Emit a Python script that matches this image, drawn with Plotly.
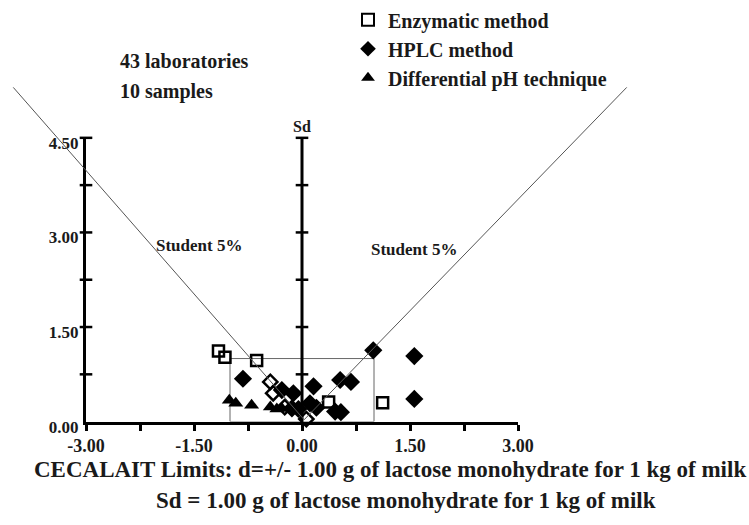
import plotly.graph_objects as go

# ---------------- data ----------------
enz_x = [-1.16, -1.07, -0.63, -0.44, -0.40, -0.24, 0.06, 0.37, 1.12]
enz_y = [1.12, 1.02, 0.97, 0.63, 0.45, 0.23, 0.04, 0.31, 0.30]
enz_sym = ["square-open", "square-open", "square-open", "diamond-open", "diamond-open",
           "diamond-open", "diamond-open", "square-open", "square-open"]

hplc_x = [-0.82, -0.28, -0.12, 0.16, 0.53, 0.68, 0.99, -0.14, -0.05, 0.11, 0.20, 0.46, 0.54, 1.56, 1.56]
hplc_y = [0.68, 0.50, 0.45, 0.56, 0.66, 0.63, 1.13, 0.21, 0.20, 0.29, 0.22, 0.16, 0.15, 1.04, 0.36]

ph_x = [-1.01, -0.92, -0.70, -0.44, -0.35, -0.28]
ph_y = [0.34, 0.29, 0.26, 0.23, 0.20, 0.21]

student_left_x = [-4.01, 0.03]
student_left_y = [5.30, 0.03]
student_right_x = [0.03, 4.51]
student_right_y = [0.03, 5.30]

limit_d = 1.00
limit_sd = 1.00

x_ticks = [-3.0, -1.5, 0.0, 1.5, 3.0]
x_ticktext = ["-3.00", "-1.50", "0.00", "1.50", "3.00"]
x_minor = [-2.25, -0.75, 0.75, 2.25]
y_ticks = [0.0, 1.5, 3.0, 4.5]
y_ticktext = ["0.00", "1.50", "3.00", "4.50"]
y_small_ticks = [0.75, 1.5, 2.25, 3.0, 3.75, 4.5]

# ---------------- layout geometry (pixels) ----------------
W, H = 749, 525
ax_left, ax_right = 86, 518
ax_bottom, ax_top = 419, 128
x_range = [-3.0, 3.0]
y_range = [0.0, 4.5]
px_per_x = (ax_right - ax_left) / (x_range[1] - x_range[0])
px_per_y = (ax_bottom - ax_top) / (y_range[1] - y_range[0])
x2_range = [x_range[0] - ax_left / px_per_x, x_range[1] + (W - ax_right) / px_per_x]
y2_range = [y_range[0] - (H - ax_bottom) / px_per_y, y_range[1] + ax_top / px_per_y]

FONT = "Liberation Serif"

fig = go.Figure()

# Sd line (vertical axis at 0)
fig.add_trace(go.Scatter(x=[0, 0], y=[0, 4.5], mode="lines",
                         line=dict(color="black", width=3), showlegend=False,
                         hoverinfo="skip", xaxis="x", yaxis="y"))
# small cross ticks on y axis and Sd line
fig.add_trace(go.Scatter(x=[x_range[0]] * len(y_small_ticks) + [0] * len(y_small_ticks),
                         y=y_small_ticks + y_small_ticks, mode="markers",
                         marker=dict(symbol="line-ew-open", size=9, color="black",
                                     line=dict(color="black", width=2.5)),
                         showlegend=False, hoverinfo="skip", cliponaxis=False,
                         xaxis="x", yaxis="y"))

fig.add_trace(go.Scatter(x=enz_x, y=enz_y, mode="markers", name="Enzymatic method",
                         marker=dict(symbol=enz_sym, size=11, color="black",
                                     line=dict(color="black", width=2.5)),
                         cliponaxis=False, xaxis="x", yaxis="y"))
fig.add_trace(go.Scatter(x=hplc_x, y=hplc_y, mode="markers", name="HPLC method",
                         marker=dict(symbol="diamond", size=14, color="black"),
                         cliponaxis=False, xaxis="x", yaxis="y"))
fig.add_trace(go.Scatter(x=ph_x, y=ph_y, mode="markers", name="Differential pH technique",
                         marker=dict(symbol="triangle-up", size=13, color="black"),
                         cliponaxis=False, xaxis="x", yaxis="y"))

# Student 5% lines on full-canvas overlay axes
for sx, sy in [(student_left_x, student_left_y), (student_right_x, student_right_y)]:
    fig.add_trace(go.Scatter(x=sx, y=sy, mode="lines", line=dict(color="#555555", width=1),
                             showlegend=False, hoverinfo="skip", xaxis="x2", yaxis="y2"))

# CECALAIT limits box
fig.add_shape(type="rect", xref="x", yref="y", x0=-limit_d, x1=limit_d, y0=0, y1=limit_sd,
              line=dict(color="#666666", width=1), layer="below")


def txt(text, x, y, size, xanchor="left"):
    fig.add_annotation(text=text, x=x / W, y=1 - y / H, xref="paper", yref="paper",
                       xanchor=xanchor, yanchor="middle", showarrow=False,
                       font=dict(family=FONT, size=size, color="#1a1a1a", weight="bold"))


txt("43 laboratories", 118, 49, 20)
txt("10 samples", 118, 80, 20)
txt("Sd", 302, 116, 16, "center")
txt("Student 5%", 154, 238, 17)
txt("Student 5%", 369, 242, 17)
txt("CECALAIT Limits: d=+/- 1.00 g of lactose monohydrate for 1 kg of milk", 32, 468, 23)
txt("Sd = 1.00 g of lactose monohydrate for 1 kg of milk", 154, 500, 23)

fig.update_layout(
    width=W, height=H,
    margin=dict(l=0, r=0, t=0, b=0, pad=0),
    paper_bgcolor="white", plot_bgcolor="rgba(0,0,0,0)",
    font=dict(family=FONT, color="#1a1a1a", weight="bold"),
    xaxis=dict(domain=[ax_left / W, ax_right / W], range=x_range, showgrid=False,
               zeroline=False, showline=True, linecolor="black", linewidth=3,
               tickmode="array", tickvals=x_ticks, ticktext=x_ticktext,
               ticks="outside", ticklen=6, tickwidth=2.5, tickcolor="black",
               minor=dict(tickmode="array", tickvals=x_minor, ticks="outside",
                          ticklen=6, tickwidth=2.5, tickcolor="black"),
               tickfont=dict(family=FONT, size=18, weight="bold"),
               fixedrange=True, anchor="y", automargin=False),
    yaxis=dict(domain=[1 - ax_bottom / H, 1 - ax_top / H], range=y_range, showgrid=False,
               zeroline=False, showline=True, linecolor="black", linewidth=3,
               tickmode="array", tickvals=y_ticks, ticktext=y_ticktext, ticks="",
               tickfont=dict(family=FONT, size=17, weight="bold"),
               ticklabelstandoff=1, ticklabelshift=5,
               fixedrange=True, anchor="x", automargin=False),
    xaxis2=dict(domain=[0, 1], range=x2_range, visible=False, fixedrange=True,
                anchor="y2", automargin=False),
    yaxis2=dict(domain=[0, 1], range=y2_range, visible=False, fixedrange=True,
                anchor="x2", automargin=False),
    legend=dict(x=348 / W, y=1 + 13 / H, xanchor="left", yanchor="top",
                bgcolor="rgba(0,0,0,0)", font=dict(family=FONT, size=20, weight="bold"),
                itemwidth=30, tracegroupgap=0, itemsizing="constant"),
    showlegend=True,
)

fig.write_html("out.html", post_script="document.body.style.margin='0px';",
               config={"displayModeBar": False})
